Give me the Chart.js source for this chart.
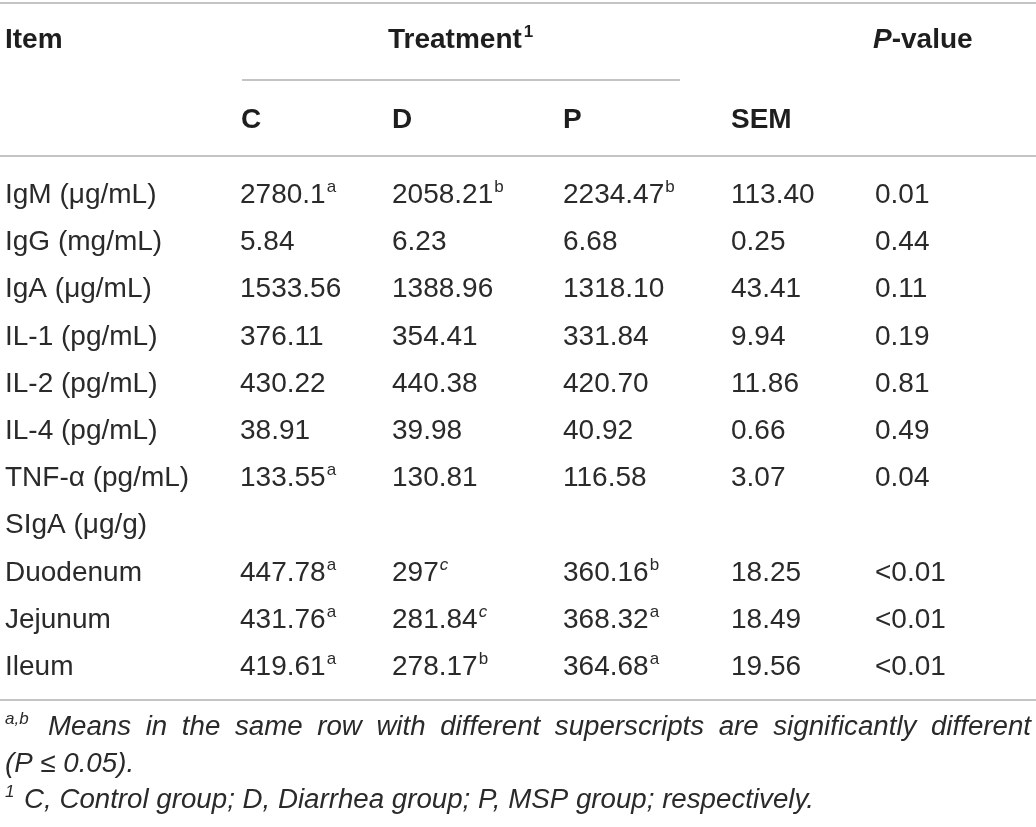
<!DOCTYPE html>
<html>
<head>
<meta charset="utf-8">
<script src="https://cdn.jsdelivr.net/npm/chart.js@4.4.1/dist/chart.umd.min.js"></script>
<style>
  html, body { margin: 0; padding: 0; background: #fff; }
  #wrap { width: 1036px; height: 827px; position: relative; }
</style>
</head>
<body>
<div id="wrap"><canvas id="myChart"></canvas></div>
<script>
const ctx = document.getElementById("myChart");

/* table content */
var items = ["IgM (\u03bcg/mL)", "IgG (mg/mL)", "IgA (\u03bcg/mL)", "IL-1 (pg/mL)", "IL-2 (pg/mL)",
  "IL-4 (pg/mL)", "TNF-\u03b1 (pg/mL)", "SIgA (\u03bcg/g)", "Duodenum", "Jejunum", "Ileum"];
var valC = ["2780.1", "5.84", "1533.56", "376.11", "430.22", "38.91", "133.55", "", "447.78", "431.76", "419.61"];
var supC = ["a", "", "", "", "", "", "a", "", "a", "a", "a"];
var valD = ["2058.21", "6.23", "1388.96", "354.41", "440.38", "39.98", "130.81", "", "297", "281.84", "278.17"];
var supD = ["b", "", "", "", "", "", "", "", "c", "c", "b"];
var valP = ["2234.47", "6.68", "1318.10", "331.84", "420.70", "40.92", "116.58", "", "360.16", "368.32", "364.68"];
var supP = ["b", "", "", "", "", "", "", "", "b", "a", "a"];
var sem = ["113.40", "0.25", "43.41", "9.94", "11.86", "0.66", "3.07", "", "18.25", "18.49", "19.56"];
var pValue = ["0.01", "0.44", "0.11", "0.19", "0.81", "0.49", "0.04", "", "<0.01", "<0.01", "<0.01"];

var note1 = "Means in the same row with different superscripts are significantly different";
var note2 = "(P \u2264 0.05).";
var note3 = "C, Control group; D, Diarrhea group; P, MSP group; respectively.";

/* layout (pixels) */
var W = 1036, H = 827;
var ROW0 = 203, ROWH = 47.2; // baseline of first body row, row pitch
function rowOf(px) { return (px - ROW0) / ROWH; }
var FONT = '"Liberation Sans", Arial, sans-serif';
var INK = "#2a2a2a";
var RULE = "#c4c4c4";

function column(label, x, texts, sups) {
  return {
    label: label,
    data: texts.map(function (t, i) { return { x: x, y: i }; }),
    cellText: texts,
    cellSup: sups || [],
    pointRadius: 0,
  };
}

/* draw the table cells at the points placed by the scales */
const tablePlugin = {
  id: "tableText",
  afterDatasetsDraw(chart) {
    const c = chart.ctx;
    const xs = chart.scales.x, ys = chart.scales.y;
    const X = function (v) { return xs.getPixelForValue(v); };
    const Y = function (px) { return ys.getPixelForValue(rowOf(px)); };
    c.save();
    c.textBaseline = "alphabetic";
    c.textAlign = "left";

    // rules
    c.strokeStyle = RULE;
    c.lineWidth = 2;
    [[0, W, 3], [242, 680, 80], [0, W, 156], [0, W, 700]].forEach(function (l) {
      c.beginPath();
      c.moveTo(X(l[0]), Y(l[2]));
      c.lineTo(X(l[1]), Y(l[2]));
      c.stroke();
    });

    // header
    c.fillStyle = "#1e1e1e";
    c.font = "bold 28px " + FONT;
    c.fillText("Item", X(5), Y(48));
    c.fillText("Treatment", X(388), Y(48));
    var tw = c.measureText("Treatment").width;
    c.font = "bold 17px " + FONT;
    c.fillText("1", X(388) + tw + 2, Y(48) - 11);
    c.font = "italic bold 28px " + FONT;
    c.fillText("P", X(873), Y(48));
    var pw = c.measureText("P").width;
    c.font = "bold 28px " + FONT;
    c.fillText("-value", X(873) + pw, Y(48));
    [["C", 241], ["D", 392], ["P", 563], ["SEM", 731]].forEach(function (h) {
      c.fillText(h[0], X(h[1]), Y(128));
    });

    // body cells
    chart.data.datasets.forEach(function (ds, k) {
      const meta = chart.getDatasetMeta(k);
      meta.data.forEach(function (pt, i) {
        var t = ds.cellText[i];
        if (!t) return;
        c.font = "28px " + FONT;
        c.fillStyle = INK;
        c.fillText(t, pt.x, pt.y);
        var s = ds.cellSup[i];
        if (s) {
          var w = c.measureText(t).width;
          c.font = (s === "c" ? "italic " : "") + "17px " + FONT;
          c.fillText(s, pt.x + w + 1, pt.y - 11);
        }
      });
    });

    // footnotes
    c.fillStyle = INK;
    c.font = "italic 17px " + FONT;
    c.fillText("a,b", X(5), Y(735) - 11);
    c.font = "italic 27.7px " + FONT;
    var words = note1.split(" ");
    var total = 0;
    words.forEach(function (wd) { total += c.measureText(wd).width; });
    var x0 = 48, x1 = 1031;
    var gap = (x1 - x0 - total) / (words.length - 1);
    var cx = x0;
    words.forEach(function (wd) {
      c.fillText(wd, X(cx), Y(735));
      cx += c.measureText(wd).width + gap;
    });
    c.fillText(note2, X(5), Y(772));
    c.font = "italic 17px " + FONT;
    c.fillText("1", X(5), Y(808) - 11);
    c.font = "italic 27.7px " + FONT;
    c.fillText(note3, X(24), Y(808));
    c.restore();
  },
};

new Chart(ctx, {
  type: "scatter",
  data: {
    datasets: [
      column("Item", 5, items),
      column("C", 240, valC, supC),
      column("D", 392, valD, supD),
      column("P", 563, valP, supP),
      column("SEM", 731, sem),
      column("P-value", 875, pValue),
    ],
  },
  options: {
    responsive: true,
    maintainAspectRatio: false,
    animation: false,
    layout: { padding: 0 },
    plugins: {
      legend: { display: false },
      tooltip: { enabled: false },
    },
    scales: {
      x: { type: "linear", min: 0, max: W, display: false },
      y: { type: "linear", min: rowOf(0), max: rowOf(H), reverse: true, display: false },
    },
  },
  plugins: [tablePlugin],
});
</script>
</body>
</html>
